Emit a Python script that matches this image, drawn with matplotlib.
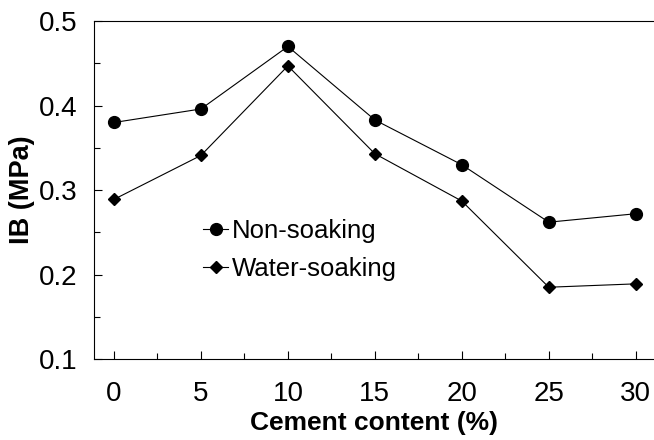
import numpy as np
import matplotlib.pyplot as plt
from matplotlib.ticker import MultipleLocator

plt.rcParams['font.family'] = ['Liberation Sans', 'DejaVu Sans']

# datos
cement = [0, 5, 10, 15, 20, 25, 30]
non_soaking = [0.380, 0.396, 0.470, 0.383, 0.330, 0.262, 0.272]
water_soaking = [0.289, 0.341, 0.447, 0.343, 0.287, 0.185, 0.189]

fig = plt.figure(figsize=(6.54, 4.4), dpi=100)
ax = fig.add_axes([0.1437, 0.184, 0.8563, 0.768])

ax.plot(cement, non_soaking, color="black", linewidth=0.8, marker="o",
        markersize=8.5, label="Non-soaking")
ax.plot(cement, water_soaking, color="black", linewidth=0.8, marker="D",
        markersize=6, label="Water-soaking")

ax.set_xlim(-1.15, 31.05)
ax.set_ylim(0.1, 0.5)
ax.xaxis.set_major_locator(MultipleLocator(5))
ax.xaxis.set_minor_locator(MultipleLocator(2.5))
ax.yaxis.set_minor_locator(MultipleLocator(0.05))
ax.set_yticks([0.1, 0.2, 0.3, 0.4, 0.5])
ax.set_yticklabels(["0.1", "0.2", "0.3", "0.4", "0.5"])

ax.tick_params(which="major", direction="in", length=6, width=0.8,
               labelsize=20)
ax.tick_params(which="minor", direction="in", length=4, width=0.8)
ax.tick_params(axis="y", pad=12)
ax.tick_params(axis="x", pad=16)
ax.spines["right"].set_visible(False)
for s in ["left", "bottom", "top"]:
    ax.spines[s].set_linewidth(0.8)

ax.set_xlabel("Cement content (%)", fontsize=19, fontweight="bold", labelpad=3)
ax.set_ylabel("IB (MPa)", fontsize=19.5, fontweight="bold", labelpad=3)

ax.legend(loc="upper left", bbox_to_anchor=(0.153, 0.482), frameon=False,
          fontsize=18.5, handlelength=1.0, handletextpad=0.12,
          labelspacing=0.55)

plt.savefig("out.png", dpi=100)
